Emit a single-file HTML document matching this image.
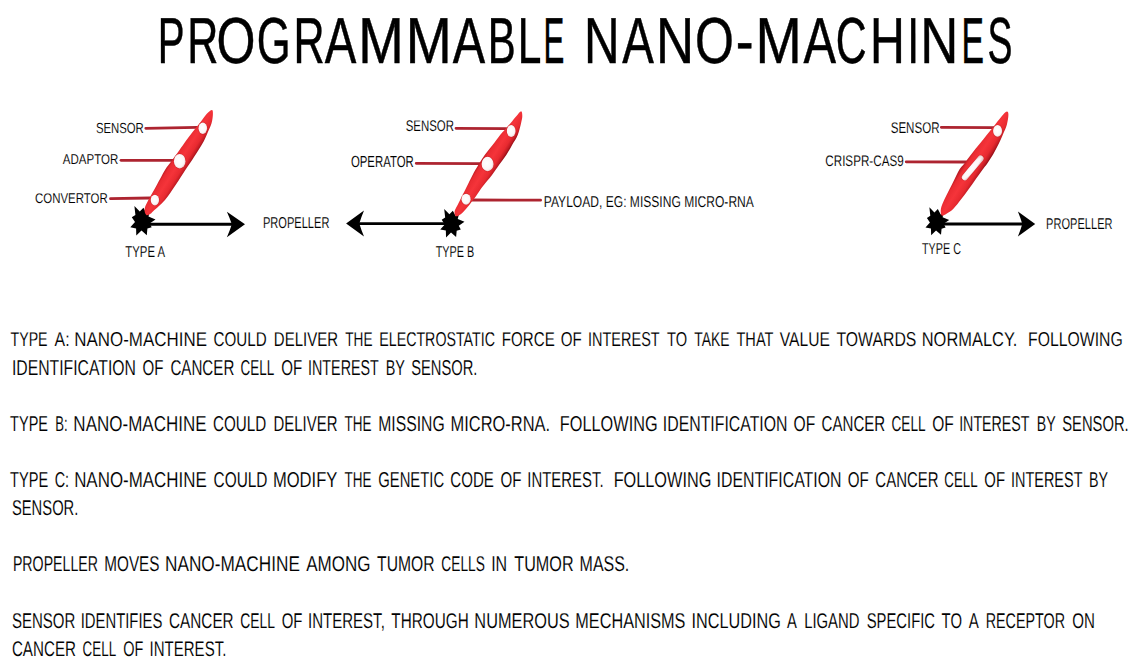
<!DOCTYPE html><html><head><meta charset="utf-8"><style>
html,body{margin:0;padding:0;background:#fff;width:1136px;height:665px;overflow:hidden}
svg{display:block}
text{font-family:"Liberation Sans",sans-serif;white-space:pre}
</style></head><body>
<svg width="1136" height="665" viewBox="0 0 1136 665">
<defs>
<radialGradient id="dot" cx="0.45" cy="0.45" r="0.6"><stop offset="0" stop-color="#fff"/><stop offset="0.7" stop-color="#fbf6f6"/><stop offset="1" stop-color="#e9c9c9"/></radialGradient>
</defs>
<rect width="1136" height="665" fill="#fff"/>

<text transform="matrix(1 0 0.0005 1 -0.0314 0)" x="157.8" y="62.8" font-size="65.12" textLength="26.8" lengthAdjust="spacingAndGlyphs" fill="#000" stroke="#000" stroke-width="0.5">P</text>
<text transform="matrix(1 0 0.0005 1 -0.0314 0)" x="187.3" y="62.8" font-size="65.12" textLength="31.13" lengthAdjust="spacingAndGlyphs" fill="#000" stroke="#000" stroke-width="0.5">R</text>
<text transform="matrix(1 0 0.0005 1 -0.0314 0)" x="216.4" y="62.8" font-size="65.12" textLength="38.97" lengthAdjust="spacingAndGlyphs" fill="#000" stroke="#000" stroke-width="0.5">O</text>
<text transform="matrix(1 0 0.0005 1 -0.0314 0)" x="256.7" y="62.8" font-size="65.12" textLength="33.95" lengthAdjust="spacingAndGlyphs" fill="#000" stroke="#000" stroke-width="0.5">G</text>
<text transform="matrix(1 0 0.0005 1 -0.0314 0)" x="293.6" y="62.8" font-size="65.12" textLength="31.13" lengthAdjust="spacingAndGlyphs" fill="#000" stroke="#000" stroke-width="0.5">R</text>
<text transform="matrix(1 0 0.0005 1 -0.0314 0)" x="324.7" y="62.8" font-size="65.12" textLength="31.59" lengthAdjust="spacingAndGlyphs" fill="#000" stroke="#000" stroke-width="0.5">A</text>
<text transform="matrix(1 0 0.0005 1 -0.0314 0)" x="358.3" y="62.8" font-size="65.12" textLength="45.58" lengthAdjust="spacingAndGlyphs" fill="#000" stroke="#000" stroke-width="0.5">M</text>
<text transform="matrix(1 0 0.0005 1 -0.0314 0)" x="405.7" y="62.8" font-size="65.12" textLength="46.06" lengthAdjust="spacingAndGlyphs" fill="#000" stroke="#000" stroke-width="0.5">M</text>
<text transform="matrix(1 0 0.0005 1 -0.0314 0)" x="452.8" y="62.8" font-size="65.12" textLength="32.39" lengthAdjust="spacingAndGlyphs" fill="#000" stroke="#000" stroke-width="0.5">A</text>
<text transform="matrix(1 0 0.0005 1 -0.0314 0)" x="487.8" y="62.8" font-size="65.12" textLength="28.01" lengthAdjust="spacingAndGlyphs" fill="#000" stroke="#000" stroke-width="0.5">B</text>
<text transform="matrix(1 0 0.0005 1 -0.0314 0)" x="517.8" y="62.8" font-size="65.12" textLength="23.67" lengthAdjust="spacingAndGlyphs" fill="#000" stroke="#000" stroke-width="0.5">L</text>
<text transform="matrix(1 0 0.0005 1 -0.0314 0)" x="543.5" y="62.8" font-size="65.12" textLength="20.88" lengthAdjust="spacingAndGlyphs" fill="#000" stroke="#000" stroke-width="0.5">E</text>
<text transform="matrix(1 0 0.0005 1 -0.0314 0)" x="584" y="62.8" font-size="65.12" textLength="35.63" lengthAdjust="spacingAndGlyphs" fill="#000" stroke="#000" stroke-width="0.5">N</text>
<text transform="matrix(1 0 0.0005 1 -0.0314 0)" x="622.3" y="62.8" font-size="65.12" textLength="31.59" lengthAdjust="spacingAndGlyphs" fill="#000" stroke="#000" stroke-width="0.5">A</text>
<text transform="matrix(1 0 0.0005 1 -0.0314 0)" x="655.9" y="62.8" font-size="65.12" textLength="38.13" lengthAdjust="spacingAndGlyphs" fill="#000" stroke="#000" stroke-width="0.5">N</text>
<text transform="matrix(1 0 0.0005 1 -0.0314 0)" x="695.1" y="62.8" font-size="65.12" textLength="38.95" lengthAdjust="spacingAndGlyphs" fill="#000" stroke="#000" stroke-width="0.5">O</text>
<text transform="matrix(1 0 0.0005 1 -0.0314 0)" x="735.8" y="62.8" font-size="65.12" textLength="17.86" lengthAdjust="spacingAndGlyphs" fill="#000" stroke="#000" stroke-width="0.5">-</text>
<text transform="matrix(1 0 0.0005 1 -0.0314 0)" x="755.5" y="62.8" font-size="65.12" textLength="46.3" lengthAdjust="spacingAndGlyphs" fill="#000" stroke="#000" stroke-width="0.5">M</text>
<text transform="matrix(1 0 0.0005 1 -0.0314 0)" x="803.4" y="62.8" font-size="65.12" textLength="32.59" lengthAdjust="spacingAndGlyphs" fill="#000" stroke="#000" stroke-width="0.5">A</text>
<text transform="matrix(1 0 0.0005 1 -0.0314 0)" x="835.8" y="62.8" font-size="65.12" textLength="30.92" lengthAdjust="spacingAndGlyphs" fill="#000" stroke="#000" stroke-width="0.5">C</text>
<text transform="matrix(1 0 0.0005 1 -0.0314 0)" x="869.9" y="62.8" font-size="65.12" textLength="34.86" lengthAdjust="spacingAndGlyphs" fill="#000" stroke="#000" stroke-width="0.5">H</text>
<text transform="matrix(1 0 0.0005 1 -0.0314 0)" x="907.2" y="62.8" font-size="65.12" textLength="11.9" lengthAdjust="spacingAndGlyphs" fill="#000" stroke="#000" stroke-width="0.5">I</text>
<text transform="matrix(1 0 0.0005 1 -0.0314 0)" x="920.2" y="62.8" font-size="65.12" textLength="38.13" lengthAdjust="spacingAndGlyphs" fill="#000" stroke="#000" stroke-width="0.5">N</text>
<text transform="matrix(1 0 0.0005 1 -0.0314 0)" x="961.4" y="62.8" font-size="65.12" textLength="22.53" lengthAdjust="spacingAndGlyphs" fill="#000" stroke="#000" stroke-width="0.5">E</text>
<text transform="matrix(1 0 0.0005 1 -0.0314 0)" x="987.6" y="62.8" font-size="65.12" textLength="24.95" lengthAdjust="spacingAndGlyphs" fill="#000" stroke="#000" stroke-width="0.5">S</text>
<text transform="matrix(1 0 0.0005 1 -0.1729 0)" x="10.5" y="345.75" font-size="20.13" textLength="37.08" lengthAdjust="spacingAndGlyphs" fill="#000" stroke="#fff" stroke-width="0.12">TYPE</text>
<text transform="matrix(1 0 0.0005 1 -0.1729 0)" x="54.58" y="345.75" font-size="20.13" textLength="14.99" lengthAdjust="spacingAndGlyphs" fill="#000" stroke="#fff" stroke-width="0.12">A:</text>
<text transform="matrix(1 0 0.0005 1 -0.1729 0)" x="74.2" y="345.75" font-size="20.13" textLength="132.78" lengthAdjust="spacingAndGlyphs" fill="#000" stroke="#fff" stroke-width="0.12">NANO-MACHINE</text>
<text transform="matrix(1 0 0.0005 1 -0.1729 0)" x="213.55" y="345.75" font-size="20.13" textLength="53.19" lengthAdjust="spacingAndGlyphs" fill="#000" stroke="#fff" stroke-width="0.12">COULD</text>
<text transform="matrix(1 0 0.0005 1 -0.1729 0)" x="273.85" y="345.75" font-size="20.13" textLength="64.27" lengthAdjust="spacingAndGlyphs" fill="#000" stroke="#fff" stroke-width="0.12">DELIVER</text>
<text transform="matrix(1 0 0.0005 1 -0.1729 0)" x="345.25" y="345.75" font-size="20.13" textLength="27.22" lengthAdjust="spacingAndGlyphs" fill="#000" stroke="#fff" stroke-width="0.12">THE</text>
<text transform="matrix(1 0 0.0005 1 -0.1729 0)" x="379.23" y="345.75" font-size="20.13" textLength="115.77" lengthAdjust="spacingAndGlyphs" fill="#000" stroke="#fff" stroke-width="0.12">ELECTROSTATIC</text>
<text transform="matrix(1 0 0.0005 1 -0.1729 0)" x="501.85" y="345.75" font-size="20.13" textLength="52.87" lengthAdjust="spacingAndGlyphs" fill="#000" stroke="#fff" stroke-width="0.12">FORCE</text>
<text transform="matrix(1 0 0.0005 1 -0.1729 0)" x="560.79" y="345.75" font-size="20.13" textLength="21.02" lengthAdjust="spacingAndGlyphs" fill="#000" stroke="#fff" stroke-width="0.12">OF</text>
<text transform="matrix(1 0 0.0005 1 -0.1729 0)" x="588.04" y="345.75" font-size="20.13" textLength="71.64" lengthAdjust="spacingAndGlyphs" fill="#000" stroke="#fff" stroke-width="0.12">INTEREST</text>
<text transform="matrix(1 0 0.0005 1 -0.1729 0)" x="667.1" y="345.75" font-size="20.13" textLength="20.11" lengthAdjust="spacingAndGlyphs" fill="#000" stroke="#fff" stroke-width="0.12">TO</text>
<text transform="matrix(1 0 0.0005 1 -0.1729 0)" x="694.35" y="345.75" font-size="20.13" textLength="35.23" lengthAdjust="spacingAndGlyphs" fill="#000" stroke="#fff" stroke-width="0.12">TAKE</text>
<text transform="matrix(1 0 0.0005 1 -0.1729 0)" x="736.48" y="345.75" font-size="20.13" textLength="36.94" lengthAdjust="spacingAndGlyphs" fill="#000" stroke="#fff" stroke-width="0.12">THAT</text>
<text transform="matrix(1 0 0.0005 1 -0.1729 0)" x="779.79" y="345.75" font-size="20.13" textLength="50.16" lengthAdjust="spacingAndGlyphs" fill="#000" stroke="#fff" stroke-width="0.12">VALUE</text>
<text transform="matrix(1 0 0.0005 1 -0.1729 0)" x="836.48" y="345.75" font-size="20.13" textLength="79.85" lengthAdjust="spacingAndGlyphs" fill="#000" stroke="#fff" stroke-width="0.12">TOWARDS</text>
<text transform="matrix(1 0 0.0005 1 -0.1729 0)" x="921.75" y="345.75" font-size="20.13" textLength="95.64" lengthAdjust="spacingAndGlyphs" fill="#000" stroke="#fff" stroke-width="0.12">NORMALCY.</text>
<text transform="matrix(1 0 0.0005 1 -0.1729 0)" x="1027.99" y="345.75" font-size="20.13" textLength="94.75" lengthAdjust="spacingAndGlyphs" fill="#000" stroke="#fff" stroke-width="0.12">FOLLOWING</text>
<text transform="matrix(1 0 0.0005 1 -0.1873 0)" x="11.9" y="374.7" font-size="21.51" textLength="124.12" lengthAdjust="spacingAndGlyphs" fill="#000" stroke="#fff" stroke-width="0.12">IDENTIFICATION</text>
<text transform="matrix(1 0 0.0005 1 -0.1873 0)" x="142.58" y="374.7" font-size="21.51" textLength="20.96" lengthAdjust="spacingAndGlyphs" fill="#000" stroke="#fff" stroke-width="0.12">OF</text>
<text transform="matrix(1 0 0.0005 1 -0.1873 0)" x="170.43" y="374.7" font-size="21.51" textLength="63.9" lengthAdjust="spacingAndGlyphs" fill="#000" stroke="#fff" stroke-width="0.12">CANCER</text>
<text transform="matrix(1 0 0.0005 1 -0.1873 0)" x="240.5" y="374.7" font-size="21.51" textLength="33.69" lengthAdjust="spacingAndGlyphs" fill="#000" stroke="#fff" stroke-width="0.12">CELL</text>
<text transform="matrix(1 0 0.0005 1 -0.1873 0)" x="281.21" y="374.7" font-size="21.51" textLength="20.96" lengthAdjust="spacingAndGlyphs" fill="#000" stroke="#fff" stroke-width="0.12">OF</text>
<text transform="matrix(1 0 0.0005 1 -0.1873 0)" x="308.05" y="374.7" font-size="21.51" textLength="70.73" lengthAdjust="spacingAndGlyphs" fill="#000" stroke="#fff" stroke-width="0.12">INTEREST</text>
<text transform="matrix(1 0 0.0005 1 -0.1873 0)" x="385.74" y="374.7" font-size="21.51" textLength="19.27" lengthAdjust="spacingAndGlyphs" fill="#000" stroke="#fff" stroke-width="0.12">BY</text>
<text transform="matrix(1 0 0.0005 1 -0.1873 0)" x="411.17" y="374.7" font-size="21.51" textLength="66.22" lengthAdjust="spacingAndGlyphs" fill="#000" stroke="#fff" stroke-width="0.12">SENSOR.</text>
<text transform="matrix(1 0 0.0005 1 -0.2153 0)" x="10.11" y="430.7" font-size="21.51" textLength="37.9" lengthAdjust="spacingAndGlyphs" fill="#000" stroke="#fff" stroke-width="0.12">TYPE</text>
<text transform="matrix(1 0 0.0005 1 -0.2153 0)" x="55.22" y="430.7" font-size="21.51" textLength="12.38" lengthAdjust="spacingAndGlyphs" fill="#000" stroke="#fff" stroke-width="0.12">B:</text>
<text transform="matrix(1 0 0.0005 1 -0.2153 0)" x="73.36" y="430.7" font-size="21.51" textLength="133.2" lengthAdjust="spacingAndGlyphs" fill="#000" stroke="#fff" stroke-width="0.12">NANO-MACHINE</text>
<text transform="matrix(1 0 0.0005 1 -0.2153 0)" x="212.94" y="430.7" font-size="21.51" textLength="53.38" lengthAdjust="spacingAndGlyphs" fill="#000" stroke="#fff" stroke-width="0.12">COULD</text>
<text transform="matrix(1 0 0.0005 1 -0.2153 0)" x="273.57" y="430.7" font-size="21.51" textLength="63.88" lengthAdjust="spacingAndGlyphs" fill="#000" stroke="#fff" stroke-width="0.12">DELIVER</text>
<text transform="matrix(1 0 0.0005 1 -0.2153 0)" x="344.5" y="430.7" font-size="21.51" textLength="27.02" lengthAdjust="spacingAndGlyphs" fill="#000" stroke="#fff" stroke-width="0.12">THE</text>
<text transform="matrix(1 0 0.0005 1 -0.2153 0)" x="378.21" y="430.7" font-size="21.51" textLength="66.44" lengthAdjust="spacingAndGlyphs" fill="#000" stroke="#fff" stroke-width="0.12">MISSING</text>
<text transform="matrix(1 0 0.0005 1 -0.2153 0)" x="450.51" y="430.7" font-size="21.51" textLength="99.63" lengthAdjust="spacingAndGlyphs" fill="#000" stroke="#fff" stroke-width="0.12">MICRO-RNA.</text>
<text transform="matrix(1 0 0.0005 1 -0.2153 0)" x="559.85" y="430.7" font-size="21.51" textLength="97.77" lengthAdjust="spacingAndGlyphs" fill="#000" stroke="#fff" stroke-width="0.12">FOLLOWING</text>
<text transform="matrix(1 0 0.0005 1 -0.2153 0)" x="662.8" y="430.7" font-size="21.51" textLength="124.69" lengthAdjust="spacingAndGlyphs" fill="#000" stroke="#fff" stroke-width="0.12">IDENTIFICATION</text>
<text transform="matrix(1 0 0.0005 1 -0.2153 0)" x="793.61" y="430.7" font-size="21.51" textLength="21.69" lengthAdjust="spacingAndGlyphs" fill="#000" stroke="#fff" stroke-width="0.12">OF</text>
<text transform="matrix(1 0 0.0005 1 -0.2153 0)" x="821.62" y="430.7" font-size="21.51" textLength="63.63" lengthAdjust="spacingAndGlyphs" fill="#000" stroke="#fff" stroke-width="0.12">CANCER</text>
<text transform="matrix(1 0 0.0005 1 -0.2153 0)" x="891.5" y="430.7" font-size="21.51" textLength="34.05" lengthAdjust="spacingAndGlyphs" fill="#000" stroke="#fff" stroke-width="0.12">CELL</text>
<text transform="matrix(1 0 0.0005 1 -0.2153 0)" x="932.21" y="430.7" font-size="21.51" textLength="21.57" lengthAdjust="spacingAndGlyphs" fill="#000" stroke="#fff" stroke-width="0.12">OF</text>
<text transform="matrix(1 0 0.0005 1 -0.2153 0)" x="959.17" y="430.7" font-size="21.51" textLength="70.37" lengthAdjust="spacingAndGlyphs" fill="#000" stroke="#fff" stroke-width="0.12">INTEREST</text>
<text transform="matrix(1 0 0.0005 1 -0.2153 0)" x="1036.67" y="430.7" font-size="21.51" textLength="18.94" lengthAdjust="spacingAndGlyphs" fill="#000" stroke="#fff" stroke-width="0.12">BY</text>
<text transform="matrix(1 0 0.0005 1 -0.2153 0)" x="1062.27" y="430.7" font-size="21.51" textLength="66.45" lengthAdjust="spacingAndGlyphs" fill="#000" stroke="#fff" stroke-width="0.12">SENSOR.</text>
<text transform="matrix(1 0 0.0005 1 -0.2434 0)" x="10.11" y="486.7" font-size="21.51" textLength="38.16" lengthAdjust="spacingAndGlyphs" fill="#000" stroke="#fff" stroke-width="0.12">TYPE</text>
<text transform="matrix(1 0 0.0005 1 -0.2434 0)" x="54.7" y="486.7" font-size="21.51" textLength="14.44" lengthAdjust="spacingAndGlyphs" fill="#000" stroke="#fff" stroke-width="0.12">C:</text>
<text transform="matrix(1 0 0.0005 1 -0.2434 0)" x="74.15" y="486.7" font-size="21.51" textLength="132.59" lengthAdjust="spacingAndGlyphs" fill="#000" stroke="#fff" stroke-width="0.12">NANO-MACHINE</text>
<text transform="matrix(1 0 0.0005 1 -0.2434 0)" x="213.52" y="486.7" font-size="21.51" textLength="53.99" lengthAdjust="spacingAndGlyphs" fill="#000" stroke="#fff" stroke-width="0.12">COULD</text>
<text transform="matrix(1 0 0.0005 1 -0.2434 0)" x="272.89" y="486.7" font-size="21.51" textLength="64.51" lengthAdjust="spacingAndGlyphs" fill="#000" stroke="#fff" stroke-width="0.12">MODIFY</text>
<text transform="matrix(1 0 0.0005 1 -0.2434 0)" x="344.45" y="486.7" font-size="21.51" textLength="26.99" lengthAdjust="spacingAndGlyphs" fill="#000" stroke="#fff" stroke-width="0.12">THE</text>
<text transform="matrix(1 0 0.0005 1 -0.2434 0)" x="378.24" y="486.7" font-size="21.51" textLength="65.93" lengthAdjust="spacingAndGlyphs" fill="#000" stroke="#fff" stroke-width="0.12">GENETIC</text>
<text transform="matrix(1 0 0.0005 1 -0.2434 0)" x="450.37" y="486.7" font-size="21.51" textLength="43.54" lengthAdjust="spacingAndGlyphs" fill="#000" stroke="#fff" stroke-width="0.12">CODE</text>
<text transform="matrix(1 0 0.0005 1 -0.2434 0)" x="500.47" y="486.7" font-size="21.51" textLength="20.99" lengthAdjust="spacingAndGlyphs" fill="#000" stroke="#fff" stroke-width="0.12">OF</text>
<text transform="matrix(1 0 0.0005 1 -0.2434 0)" x="527.34" y="486.7" font-size="21.51" textLength="76.22" lengthAdjust="spacingAndGlyphs" fill="#000" stroke="#fff" stroke-width="0.12">INTEREST.</text>
<text transform="matrix(1 0 0.0005 1 -0.2434 0)" x="613.65" y="486.7" font-size="21.51" textLength="97.71" lengthAdjust="spacingAndGlyphs" fill="#000" stroke="#fff" stroke-width="0.12">FOLLOWING</text>
<text transform="matrix(1 0 0.0005 1 -0.2434 0)" x="716.58" y="486.7" font-size="21.51" textLength="124.87" lengthAdjust="spacingAndGlyphs" fill="#000" stroke="#fff" stroke-width="0.12">IDENTIFICATION</text>
<text transform="matrix(1 0 0.0005 1 -0.2434 0)" x="847.7" y="486.7" font-size="21.51" textLength="21.08" lengthAdjust="spacingAndGlyphs" fill="#000" stroke="#fff" stroke-width="0.12">OF</text>
<text transform="matrix(1 0 0.0005 1 -0.2434 0)" x="875.35" y="486.7" font-size="21.51" textLength="63.19" lengthAdjust="spacingAndGlyphs" fill="#000" stroke="#fff" stroke-width="0.12">CANCER</text>
<text transform="matrix(1 0 0.0005 1 -0.2434 0)" x="944.36" y="486.7" font-size="21.51" textLength="33.29" lengthAdjust="spacingAndGlyphs" fill="#000" stroke="#fff" stroke-width="0.12">CELL</text>
<text transform="matrix(1 0 0.0005 1 -0.2434 0)" x="984.36" y="486.7" font-size="21.51" textLength="20.66" lengthAdjust="spacingAndGlyphs" fill="#000" stroke="#fff" stroke-width="0.12">OF</text>
<text transform="matrix(1 0 0.0005 1 -0.2434 0)" x="1010.96" y="486.7" font-size="21.51" textLength="71.53" lengthAdjust="spacingAndGlyphs" fill="#000" stroke="#fff" stroke-width="0.12">INTEREST</text>
<text transform="matrix(1 0 0.0005 1 -0.2434 0)" x="1089.01" y="486.7" font-size="21.51" textLength="19.07" lengthAdjust="spacingAndGlyphs" fill="#000" stroke="#fff" stroke-width="0.12">BY</text>
<text transform="matrix(1 0 0.0005 1 -0.2574 0)" x="11.9" y="514.7" font-size="21.37" textLength="66.5" lengthAdjust="spacingAndGlyphs" fill="#000" stroke="#fff" stroke-width="0.12">SENSOR.</text>
<text transform="matrix(1 0 0.0005 1 -0.2854 0)" x="12.9" y="570.7" font-size="21.37" textLength="85.2" lengthAdjust="spacingAndGlyphs" fill="#000" stroke="#fff" stroke-width="0.12">PROPELLER</text>
<text transform="matrix(1 0 0.0005 1 -0.2854 0)" x="104.29" y="570.7" font-size="21.37" textLength="55.2" lengthAdjust="spacingAndGlyphs" fill="#000" stroke="#fff" stroke-width="0.12">MOVES</text>
<text transform="matrix(1 0 0.0005 1 -0.2854 0)" x="164.98" y="570.7" font-size="21.37" textLength="135.0" lengthAdjust="spacingAndGlyphs" fill="#000" stroke="#fff" stroke-width="0.12">NANO-MACHINE</text>
<text transform="matrix(1 0 0.0005 1 -0.2854 0)" x="306.22" y="570.7" font-size="21.37" textLength="64.38" lengthAdjust="spacingAndGlyphs" fill="#000" stroke="#fff" stroke-width="0.12">AMONG</text>
<text transform="matrix(1 0 0.0005 1 -0.2854 0)" x="377.1" y="570.7" font-size="21.37" textLength="57.52" lengthAdjust="spacingAndGlyphs" fill="#000" stroke="#fff" stroke-width="0.12">TUMOR</text>
<text transform="matrix(1 0 0.0005 1 -0.2854 0)" x="441.36" y="570.7" font-size="21.37" textLength="43.58" lengthAdjust="spacingAndGlyphs" fill="#000" stroke="#fff" stroke-width="0.12">CELLS</text>
<text transform="matrix(1 0 0.0005 1 -0.2854 0)" x="491.18" y="570.7" font-size="21.37" textLength="16.0" lengthAdjust="spacingAndGlyphs" fill="#000" stroke="#fff" stroke-width="0.12">IN</text>
<text transform="matrix(1 0 0.0005 1 -0.2854 0)" x="514.24" y="570.7" font-size="21.37" textLength="59.38" lengthAdjust="spacingAndGlyphs" fill="#000" stroke="#fff" stroke-width="0.12">TUMOR</text>
<text transform="matrix(1 0 0.0005 1 -0.2854 0)" x="579.61" y="570.7" font-size="21.37" textLength="49.69" lengthAdjust="spacingAndGlyphs" fill="#000" stroke="#fff" stroke-width="0.12">MASS.</text>
<text transform="matrix(1 0 0.0005 1 -0.3139 0)" x="11.89" y="627.7" font-size="21.37" textLength="63.4" lengthAdjust="spacingAndGlyphs" fill="#000" stroke="#fff" stroke-width="0.12">SENSOR</text>
<text transform="matrix(1 0 0.0005 1 -0.3139 0)" x="80.64" y="627.7" font-size="21.37" textLength="81.73" lengthAdjust="spacingAndGlyphs" fill="#000" stroke="#fff" stroke-width="0.12">IDENTIFIES</text>
<text transform="matrix(1 0 0.0005 1 -0.3139 0)" x="169.01" y="627.7" font-size="21.37" textLength="64.69" lengthAdjust="spacingAndGlyphs" fill="#000" stroke="#fff" stroke-width="0.12">CANCER</text>
<text transform="matrix(1 0 0.0005 1 -0.3139 0)" x="240.15" y="627.7" font-size="21.37" textLength="34.81" lengthAdjust="spacingAndGlyphs" fill="#000" stroke="#fff" stroke-width="0.12">CELL</text>
<text transform="matrix(1 0 0.0005 1 -0.3139 0)" x="281.65" y="627.7" font-size="21.37" textLength="20.75" lengthAdjust="spacingAndGlyphs" fill="#000" stroke="#fff" stroke-width="0.12">OF</text>
<text transform="matrix(1 0 0.0005 1 -0.3139 0)" x="308.04" y="627.7" font-size="21.37" textLength="76.77" lengthAdjust="spacingAndGlyphs" fill="#000" stroke="#fff" stroke-width="0.12">INTEREST,</text>
<text transform="matrix(1 0 0.0005 1 -0.3139 0)" x="391.31" y="627.7" font-size="21.37" textLength="77.4" lengthAdjust="spacingAndGlyphs" fill="#000" stroke="#fff" stroke-width="0.12">THROUGH</text>
<text transform="matrix(1 0 0.0005 1 -0.3139 0)" x="474.37" y="627.7" font-size="21.37" textLength="95.34" lengthAdjust="spacingAndGlyphs" fill="#000" stroke="#fff" stroke-width="0.12">NUMEROUS</text>
<text transform="matrix(1 0 0.0005 1 -0.3139 0)" x="575.33" y="627.7" font-size="21.37" textLength="110.11" lengthAdjust="spacingAndGlyphs" fill="#000" stroke="#fff" stroke-width="0.12">MECHANISMS</text>
<text transform="matrix(1 0 0.0005 1 -0.3139 0)" x="691.54" y="627.7" font-size="21.37" textLength="89.36" lengthAdjust="spacingAndGlyphs" fill="#000" stroke="#fff" stroke-width="0.12">INCLUDING</text>
<text transform="matrix(1 0 0.0005 1 -0.3139 0)" x="787.0" y="627.7" font-size="21.37" textLength="9.85" lengthAdjust="spacingAndGlyphs" fill="#000" stroke="#fff" stroke-width="0.12">A</text>
<text transform="matrix(1 0 0.0005 1 -0.3139 0)" x="804.16" y="627.7" font-size="21.37" textLength="55.34" lengthAdjust="spacingAndGlyphs" fill="#000" stroke="#fff" stroke-width="0.12">LIGAND</text>
<text transform="matrix(1 0 0.0005 1 -0.3139 0)" x="866.68" y="627.7" font-size="21.37" textLength="68.42" lengthAdjust="spacingAndGlyphs" fill="#000" stroke="#fff" stroke-width="0.12">SPECIFIC</text>
<text transform="matrix(1 0 0.0005 1 -0.3139 0)" x="941.59" y="627.7" font-size="21.37" textLength="20.4" lengthAdjust="spacingAndGlyphs" fill="#000" stroke="#fff" stroke-width="0.12">TO</text>
<text transform="matrix(1 0 0.0005 1 -0.3139 0)" x="968.79" y="627.7" font-size="21.37" textLength="10.09" lengthAdjust="spacingAndGlyphs" fill="#000" stroke="#fff" stroke-width="0.12">A</text>
<text transform="matrix(1 0 0.0005 1 -0.3139 0)" x="985.63" y="627.7" font-size="21.37" textLength="79.46" lengthAdjust="spacingAndGlyphs" fill="#000" stroke="#fff" stroke-width="0.12">RECEPTOR</text>
<text transform="matrix(1 0 0.0005 1 -0.3139 0)" x="1072.19" y="627.7" font-size="21.37" textLength="22.7" lengthAdjust="spacingAndGlyphs" fill="#000" stroke="#fff" stroke-width="0.12">ON</text>
<text transform="matrix(1 0 0.0005 1 -0.3278 0)" x="11.9" y="655.55" font-size="21.15" textLength="64.2" lengthAdjust="spacingAndGlyphs" fill="#000" stroke="#fff" stroke-width="0.12">CANCER</text>
<text transform="matrix(1 0 0.0005 1 -0.3278 0)" x="82.61" y="655.55" font-size="21.15" textLength="33.59" lengthAdjust="spacingAndGlyphs" fill="#000" stroke="#fff" stroke-width="0.12">CELL</text>
<text transform="matrix(1 0 0.0005 1 -0.3278 0)" x="123.28" y="655.55" font-size="21.15" textLength="20.12" lengthAdjust="spacingAndGlyphs" fill="#000" stroke="#fff" stroke-width="0.12">OF</text>
<text transform="matrix(1 0 0.0005 1 -0.3278 0)" x="149.51" y="655.55" font-size="21.15" textLength="76.85" lengthAdjust="spacingAndGlyphs" fill="#000" stroke="#fff" stroke-width="0.12">INTEREST.</text>
<text transform="matrix(1 0 0.0005 1 -0.0665 0)" x="95.9" y="132.9" font-size="14.68" textLength="47.93" lengthAdjust="spacingAndGlyphs" fill="#000" stroke="#fff" stroke-width="0.1">SENSOR</text>
<text transform="matrix(1 0 0.0005 1 -0.0822 0)" x="62.8" y="164.4" font-size="14.1" textLength="55.47" lengthAdjust="spacingAndGlyphs" fill="#000" stroke="#fff" stroke-width="0.1">ADAPTOR</text>
<text transform="matrix(1 0 0.0005 1 -0.1016 0)" x="35" y="203.2" font-size="14.1" textLength="72.79" lengthAdjust="spacingAndGlyphs" fill="#000" stroke="#fff" stroke-width="0.1">CONVERTOR</text>
<text transform="matrix(1 0 0.0005 1 -0.1284 0)" x="125.3" y="256.8" font-size="15.7" textLength="39.76" lengthAdjust="spacingAndGlyphs" fill="#000" stroke="#fff" stroke-width="0.1">TYPE A</text>
<text transform="matrix(1 0 0.0005 1 -0.1139 0)" x="262.9" y="227.8" font-size="15.7" textLength="66.53" lengthAdjust="spacingAndGlyphs" fill="#000" stroke="#fff" stroke-width="0.1">PROPELLER</text>
<text transform="matrix(1 0 0.0005 1 -0.0654 0)" x="405.7" y="130.8" font-size="15.41" textLength="48.3" lengthAdjust="spacingAndGlyphs" fill="#000" stroke="#fff" stroke-width="0.1">SENSOR</text>
<text transform="matrix(1 0 0.0005 1 -0.0835 0)" x="350.9" y="166.9" font-size="15.99" textLength="62.96" lengthAdjust="spacingAndGlyphs" fill="#000" stroke="#fff" stroke-width="0.1">OPERATOR</text>
<text transform="matrix(1 0 0.0005 1 -0.1035 0)" x="543.8" y="206.9" font-size="15.7" textLength="210.07" lengthAdjust="spacingAndGlyphs" fill="#000" stroke="#fff" stroke-width="0.1">PAYLOAD, EG: MISSING MICRO-RNA</text>
<text transform="matrix(1 0 0.0005 1 -0.1284 0)" x="435.7" y="256.9" font-size="15.7" textLength="38.56" lengthAdjust="spacingAndGlyphs" fill="#000" stroke="#fff" stroke-width="0.1">TYPE B</text>
<text transform="matrix(1 0 0.0005 1 -0.0665 0)" x="890.7" y="133" font-size="15.55" textLength="48.86" lengthAdjust="spacingAndGlyphs" fill="#000" stroke="#fff" stroke-width="0.1">SENSOR</text>
<text transform="matrix(1 0 0.0005 1 -0.0830 0)" x="825.3" y="166.1" font-size="15.26" textLength="78.39" lengthAdjust="spacingAndGlyphs" fill="#000" stroke="#fff" stroke-width="0.1">CRISPR-CAS9</text>
<text transform="matrix(1 0 0.0005 1 -0.1271 0)" x="922" y="254.2" font-size="15.84" textLength="38.93" lengthAdjust="spacingAndGlyphs" fill="#000" stroke="#fff" stroke-width="0.1">TYPE C</text>
<text transform="matrix(1 0 0.0005 1 -0.1147 0)" x="1046.1" y="229.4" font-size="15.55" textLength="66.46" lengthAdjust="spacingAndGlyphs" fill="#000" stroke="#fff" stroke-width="0.1">PROPELLER</text>
<line x1="145.8" y1="128.3" x2="197" y2="127.3" stroke="#ad2430" stroke-width="2.8" stroke-linecap="round"/>
<line x1="121" y1="160.3" x2="173" y2="160.3" stroke="#ad2430" stroke-width="2.8" stroke-linecap="round"/>
<line x1="110.5" y1="198.7" x2="150" y2="198" stroke="#ad2430" stroke-width="2.8" stroke-linecap="round"/>
<line x1="456" y1="128.3" x2="506" y2="128.6" stroke="#ad2430" stroke-width="2.8" stroke-linecap="round"/>
<line x1="416.2" y1="163.3" x2="480" y2="163.6" stroke="#ad2430" stroke-width="2.8" stroke-linecap="round"/>
<line x1="472" y1="200" x2="540.6" y2="200.2" stroke="#ad2430" stroke-width="2.8" stroke-linecap="round"/>
<line x1="941.3" y1="127.3" x2="994" y2="127.6" stroke="#ad2430" stroke-width="2.8" stroke-linecap="round"/>
<line x1="906.2" y1="161.8" x2="966" y2="162" stroke="#ad2430" stroke-width="2.8" stroke-linecap="round"/>
<line x1="148" y1="224.2" x2="233.3" y2="224.2" stroke="#000" stroke-width="2.9"/><path d="M245,224.2 L226.9,211.7 Q230.09,218.75 231.8,224.2 Q230.09,229.90 226.9,237.2 Z" fill="#000"/>
<line x1="452" y1="223.6" x2="357.8" y2="223.6" stroke="#000" stroke-width="2.9"/><path d="M346.1,223.6 L364,210.5 Q360.94,217.85 359.3,223.6 Q360.94,229.20 364,236.4 Z" fill="#000"/>
<line x1="940" y1="224" x2="1023.8" y2="224" stroke="#000" stroke-width="2.9"/><path d="M1035.2,224 L1017.9,211.5 Q1020.76,218.55 1022.3,224 Q1020.76,229.45 1017.9,236.5 Z" fill="#000"/>
<path d="M134.40,205.90 L139.80,211.40 L143.40,207.80 L146.50,213.50 L150.00,210.50 L148.50,216.50 L155.50,219.40 L149.60,223.40 L151.70,227.30 L147.40,228.60 L146.80,235.20 L141.50,230.50 L136.30,235.60 L136.10,228.40 L130.30,227.30 L135.00,222.10 L131.80,217.20 L135.40,214.90Z" fill="#000"/>
<path d="M444.20,208.90 L449.39,214.18 L452.84,210.73 L455.82,216.20 L459.18,213.32 L457.74,219.08 L464.46,221.86 L458.80,225.70 L460.81,229.45 L456.68,230.70 L456.11,237.03 L451.02,232.52 L446.03,237.42 L445.84,230.50 L440.27,229.45 L444.78,224.46 L441.71,219.75 L445.16,217.54Z" fill="#000"/>
<path d="M929.36,207.31 L934.43,212.48 L937.82,209.09 L940.73,214.45 L944.02,211.63 L942.61,217.27 L949.19,220.00 L943.64,223.76 L945.62,227.42 L941.58,228.64 L941.01,234.85 L936.03,230.43 L931.14,235.22 L930.95,228.46 L925.50,227.42 L929.92,222.53 L926.91,217.93 L930.30,215.77Z" fill="#000"/>
<linearGradient id="gA" gradientUnits="userSpaceOnUse" x1="170.62" y1="157.20" x2="187.58" y2="167.80"><stop offset="0" stop-color="#9a1018"/><stop offset="0.12" stop-color="#c81e26"/><stop offset="0.22" stop-color="#ea2c32"/><stop offset="0.5" stop-color="#f5343a"/><stop offset="0.78" stop-color="#e82a30"/><stop offset="0.92" stop-color="#c41c24"/><stop offset="1" stop-color="#9a1018"/></linearGradient>
<path d="M211.90,110.00 C210.85,110.00 208.62,111.83 206.60,114.00 C204.58,116.17 202.13,120.00 199.80,123.00 C197.47,126.00 194.93,129.00 192.60,132.00 C190.27,135.00 187.98,138.00 185.80,141.00 C183.62,144.00 181.87,146.67 179.50,150.00 C177.13,153.33 174.02,157.67 171.60,161.00 C169.18,164.33 167.47,166.00 165.00,170.00 C162.53,174.00 159.57,180.00 156.80,185.00 C154.03,190.00 150.43,196.00 148.40,200.00 C146.37,204.00 144.95,206.50 144.60,209.00 C144.25,211.50 145.32,214.20 146.30,215.00 C147.28,215.80 149.32,214.47 150.50,213.80 C151.68,213.13 150.98,213.30 153.40,211.00 C155.82,208.70 161.30,204.33 165.00,200.00 C168.70,195.67 172.22,190.00 175.60,185.00 C178.98,180.00 182.47,174.30 185.30,170.00 C188.13,165.70 190.40,162.53 192.60,159.20 C194.80,155.87 196.62,153.03 198.50,150.00 C200.38,146.97 202.33,144.00 203.90,141.00 C205.47,138.00 206.62,135.00 207.90,132.00 C209.18,129.00 210.77,126.00 211.60,123.00 C212.43,120.00 212.85,116.17 212.90,114.00 C212.95,111.83 212.95,110.00 211.90,110.00Z" fill="url(#gA)"/><ellipse cx="202.8" cy="128.2" rx="4.8999999999999995" ry="6.3" fill="#b81a22" opacity="0.45"/><ellipse cx="202.8" cy="128.2" rx="4.3" ry="5.7" fill="url(#dot)"/><ellipse cx="179.7" cy="161.2" rx="6.3999999999999995" ry="7.8" fill="#b81a22" opacity="0.45"/><ellipse cx="179.7" cy="161.2" rx="5.8" ry="7.2" fill="url(#dot)"/><ellipse cx="154.9" cy="200.1" rx="4.8" ry="5.8999999999999995" fill="#b81a22" opacity="0.45"/><ellipse cx="154.9" cy="200.1" rx="4.2" ry="5.3" fill="url(#dot)"/>
<linearGradient id="gB" gradientUnits="userSpaceOnUse" x1="479.96" y1="158.47" x2="496.94" y2="169.03"><stop offset="0" stop-color="#9a1018"/><stop offset="0.12" stop-color="#c81e26"/><stop offset="0.22" stop-color="#ea2c32"/><stop offset="0.5" stop-color="#f5343a"/><stop offset="0.78" stop-color="#e82a30"/><stop offset="0.92" stop-color="#c41c24"/><stop offset="1" stop-color="#9a1018"/></linearGradient>
<path d="M521.10,111.30 C520.13,111.30 518.23,114.05 516.50,116.00 C514.77,117.95 512.68,120.67 510.70,123.00 C508.72,125.33 506.37,128.00 504.60,130.00 C502.83,132.00 502.10,132.50 500.10,135.00 C498.10,137.50 495.17,141.67 492.60,145.00 C490.03,148.33 487.08,151.67 484.70,155.00 C482.32,158.33 480.32,161.67 478.30,165.00 C476.28,168.33 474.55,171.33 472.60,175.00 C470.65,178.67 468.35,183.50 466.60,187.00 C464.85,190.50 463.60,193.00 462.10,196.00 C460.60,199.00 458.85,202.42 457.60,205.00 C456.35,207.58 454.90,209.63 454.60,211.50 C454.30,213.37 454.98,215.62 455.80,216.20 C456.62,216.78 458.30,215.65 459.50,215.00 C460.70,214.35 461.37,213.97 463.00,212.30 C464.63,210.63 467.12,207.72 469.30,205.00 C471.48,202.28 473.95,199.00 476.10,196.00 C478.25,193.00 479.55,190.50 482.20,187.00 C484.85,183.50 489.20,178.67 492.00,175.00 C494.80,171.33 496.62,168.33 499.00,165.00 C501.38,161.67 504.12,158.33 506.30,155.00 C508.48,151.67 510.20,148.33 512.10,145.00 C514.00,141.67 516.20,138.67 517.70,135.00 C519.20,131.33 520.33,126.17 521.10,123.00 C521.87,119.83 522.30,117.95 522.30,116.00 C522.30,114.05 522.07,111.30 521.10,111.30Z" fill="url(#gB)"/><ellipse cx="511.2" cy="131.0" rx="5.0" ry="6.5" fill="#b81a22" opacity="0.45"/><ellipse cx="511.2" cy="131.0" rx="4.4" ry="5.9" fill="url(#dot)"/><ellipse cx="487.6" cy="164.0" rx="6.6" ry="7.8" fill="#b81a22" opacity="0.45"/><ellipse cx="487.6" cy="164.0" rx="6.0" ry="7.2" fill="url(#dot)"/><ellipse cx="466.1" cy="199.2" rx="5.199999999999999" ry="6.1" fill="#b81a22" opacity="0.45"/><ellipse cx="466.1" cy="199.2" rx="4.6" ry="5.5" fill="url(#dot)"/>
<linearGradient id="gC" gradientUnits="userSpaceOnUse" x1="965.46" y1="157.96" x2="983.24" y2="169.14"><stop offset="0" stop-color="#9a1018"/><stop offset="0.12" stop-color="#c81e26"/><stop offset="0.22" stop-color="#ea2c32"/><stop offset="0.5" stop-color="#f5343a"/><stop offset="0.78" stop-color="#e82a30"/><stop offset="0.92" stop-color="#c41c24"/><stop offset="1" stop-color="#9a1018"/></linearGradient>
<path d="M1007.00,111.60 C1006.10,111.60 1004.97,112.65 1003.00,114.80 C1001.03,116.95 997.82,121.25 995.20,124.50 C992.58,127.75 989.92,131.03 987.30,134.30 C984.68,137.57 982.10,140.85 979.50,144.10 C976.90,147.35 974.22,150.55 971.70,153.80 C969.18,157.05 966.47,160.93 964.40,163.60 C962.33,166.27 960.97,167.15 959.30,169.80 C957.63,172.45 956.03,176.25 954.40,179.50 C952.77,182.75 951.13,186.03 949.50,189.30 C947.87,192.57 946.03,195.85 944.60,199.10 C943.17,202.35 941.38,206.07 940.90,208.80 C940.42,211.53 940.77,214.67 941.70,215.50 C942.63,216.33 944.55,214.92 946.50,213.80 C948.45,212.68 950.93,211.25 953.40,208.80 C955.87,206.35 958.77,202.35 961.30,199.10 C963.83,195.85 966.23,192.57 968.60,189.30 C970.97,186.03 973.18,182.75 975.50,179.50 C977.82,176.25 980.53,172.45 982.50,169.80 C984.47,167.15 985.47,166.27 987.30,163.60 C989.13,160.93 991.62,157.05 993.50,153.80 C995.38,150.55 997.02,147.35 998.60,144.10 C1000.18,140.85 1001.62,137.57 1003.00,134.30 C1004.38,131.03 1006.00,127.75 1006.90,124.50 C1007.80,121.25 1008.38,116.95 1008.40,114.80 C1008.42,112.65 1007.90,111.60 1007.00,111.60Z" fill="url(#gC)"/><ellipse cx="997.6" cy="130.9" rx="5.1" ry="6.5" fill="#b81a22" opacity="0.45"/><ellipse cx="997.6" cy="130.9" rx="4.5" ry="5.9" fill="url(#dot)"/><g transform="translate(962.9,179.5) rotate(-49.93)"><rect x="-0.6" y="-3.6" width="31.647495791936674" height="7.2" rx="3.6" fill="#b81a22" opacity="0.45"/><rect x="0" y="-3.0" width="30.447495791936674" height="6.0" rx="3.0" fill="url(#dot)"/></g>
</svg></body></html>
